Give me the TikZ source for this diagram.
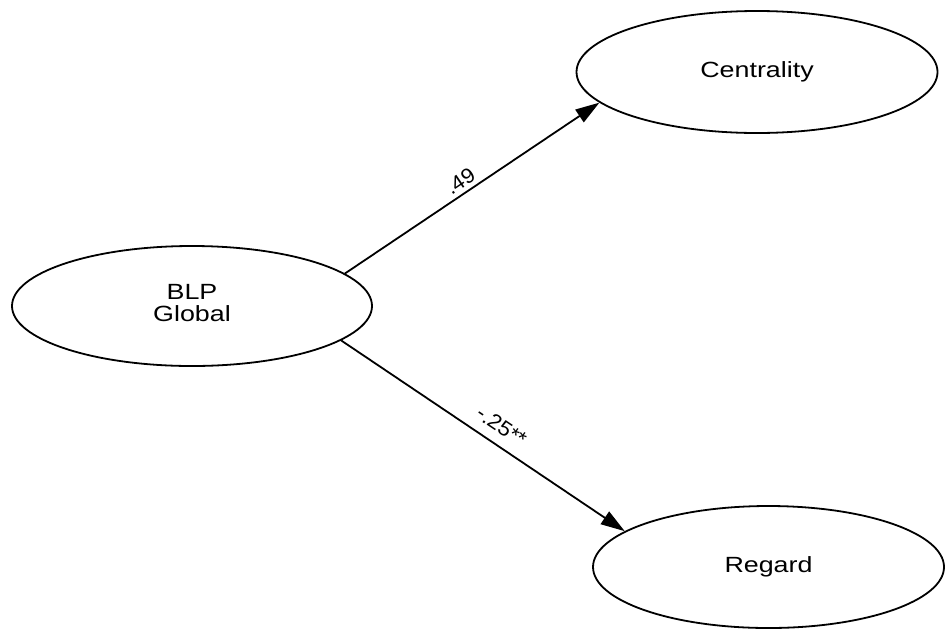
\documentclass[tikz,border=0pt]{standalone}
\usepackage{fontspec}
\setmainfont{Liberation Sans}
\usetikzlibrary{arrows.meta,shapes.geometric}
\tikzset{
  latent/.style={draw, line width=0.9pt, ellipse, inner sep=0pt},
  path/.style={draw, line width=0.9pt, -{Triangle[length=12pt,width=7.5pt]}},
  coef/.style={font=\fontsize{10.5}{12}\selectfont, sloped, inner sep=1pt},
}
\newcommand{\wide}[1]{\scalebox{1.22}[1]{#1}}
\begin{document}
\begin{tikzpicture}[x=0.5pt,y=0.5pt]
\useasboundingbox (0,0) rectangle (945,629);
\node[latent, minimum width=180pt, minimum height=60pt] (blp) at (192,323)
  {\raisebox{-2.5pt}{\fontsize{11}{9.8}\selectfont\wide{\begin{tabular}{@{}c@{}}BLP\\Global\end{tabular}}}};
\node[latent, minimum width=180.5pt, minimum height=61pt] (cen) at (757,557)
  {\raisebox{-1pt}{\fontsize{11}{12}\selectfont\wide{Centrality}}};
\node[latent, minimum width=175.5pt, minimum height=61pt] (reg) at (768.5,62)
  {\fontsize{11}{12}\selectfont\wide{Regard}};
\draw[path] (blp.12.4) -- node[coef, pos=0.48, above=1pt] {\scalebox{1.05}[1]{.49}} (cen.191.9);
\draw[path] (blp.-13.1) -- node[coef, pos=0.53, above=4pt] {\scalebox{1.05}[1]{-.25**}} (reg.166.9);
\end{tikzpicture}
\end{document}
